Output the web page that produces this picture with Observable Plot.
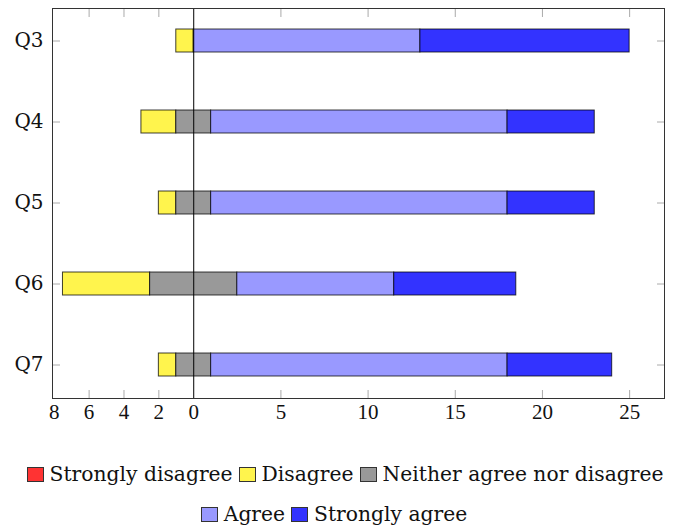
<!DOCTYPE html>
<html>
<head>
<meta charset="utf-8">
<script src="https://cdn.jsdelivr.net/npm/d3@7"></script>
<script src="https://cdn.jsdelivr.net/npm/@observablehq/plot@0.6"></script>
<style>
  body { margin: 0; background: #fff; font-family: "DejaVu Serif", serif; }
  #chart svg { display: block; }
  .legend { width: 678px; margin-top: 24px; font-size: 20.3px; color: #111; font-family: "DejaVu Serif", serif; }
  .row { display: flex; justify-content: center; align-items: center; height: 40px; white-space: nowrap; }
  .item { display: flex; align-items: center; margin: 0 3px; }
  .sw { width: 17px; height: 15px; border: 1px solid #333; margin-right: 6px; box-sizing: border-box; }
  .y-lab text { font-family: "DejaVu Serif", serif; font-size: 20px; }
</style>
</head>
<body>
<div id="chart"></div>
<div class="legend" id="legend"></div>
<script>
const categories = ["Q3", "Q4", "Q5", "Q6", "Q7"];
const levels = ["Strongly disagree", "Disagree", "Neither agree nor disagree", "Agree", "Strongly agree"];
const levelColors = ["#ff3333", "#fff44d", "#999999", "#9999ff", "#3333ff"];
const stronglyDisagree = [0, 0, 0, 0, 0];
const disagree = [1, 2, 1, 5, 1];
const neutral = [0, 2, 2, 5, 2];
const agree = [13, 17, 17, 9, 17];
const stronglyAgree = [12, 5, 5, 7, 6];
const xTicks = [-8, -6, -4, -2, 0, 5, 10, 15, 20, 25];

const series = [stronglyDisagree, disagree, neutral, agree, stronglyAgree];
const rows = [];
categories.forEach((q, i) => {
  let x = -(stronglyDisagree[i] + disagree[i] + neutral[i] / 2);
  series.forEach((s, j) => {
    const v = s[i];
    if (v > 0) rows.push({q, level: levels[j], x1: x, x2: x + v});
    x += v;
  });
});

const tick = 8;
const chart = Plot.plot({
  width: 678,
  height: 430,
  marginLeft: 52,
  marginRight: 14,
  marginTop: 8,
  marginBottom: 32,
  style: {fontFamily: "Liberation Serif", fontSize: "21px", color: "#111"},
  x: {domain: [-8.1, 27]},
  y: {domain: categories, paddingInner: 0.71, paddingOuter: 0.254, align: 0.5},
  color: {domain: levels, range: levelColors},
  marks: [
    Plot.barX(rows, {y: "q", x1: "x1", x2: "x2", fill: "level", stroke: "#000", strokeWidth: 1, strokeOpacity: 0.75}),
    Plot.ruleX([0], {stroke: "#000", strokeWidth: 1}),
    Plot.axisX({ticks: xTicks, tickFormat: d => Math.abs(d), tickSize: 0, tickPadding: 6, label: null}),
    Plot.axisX({anchor: "bottom", ticks: xTicks.filter(d => d !== 0 && d !== -8), tickSize: tick, dy: -tick, fill: "none", stroke: "#aaa", label: null}),
    Plot.axisX({anchor: "top", ticks: xTicks.filter(d => d !== 0 && d !== -8), tickSize: tick, dy: tick, fill: "none", stroke: "#aaa", label: null}),
    Plot.axisY({tickSize: 0, tickPadding: 9, label: null, className: "y-lab", fontSize: 20}),
    Plot.axisY({anchor: "left", tickSize: tick, dx: tick, fill: "none", stroke: "#aaa", label: null}),
    Plot.axisY({anchor: "right", tickSize: tick, dx: -tick, fill: "none", stroke: "#aaa", label: null}),
    Plot.frame({stroke: "#333"})
  ]
});
document.getElementById("chart").appendChild(chart);

const legend = document.getElementById("legend");
[[[0, 1, 2], 6], [[3, 4], -5]].forEach(([idx, shift]) => {
  const row = document.createElement("div");
  row.className = "row";
  row.style.transform = `translateX(${shift}px)`;
  idx.forEach(k => {
    const it = document.createElement("div");
    it.className = "item";
    const sw = document.createElement("span");
    sw.className = "sw";
    sw.style.background = levelColors[k];
    const t = document.createElement("span");
    t.textContent = levels[k];
    it.appendChild(sw);
    it.appendChild(t);
    row.appendChild(it);
  });
  legend.appendChild(row);
});
</script>
</body>
</html>
